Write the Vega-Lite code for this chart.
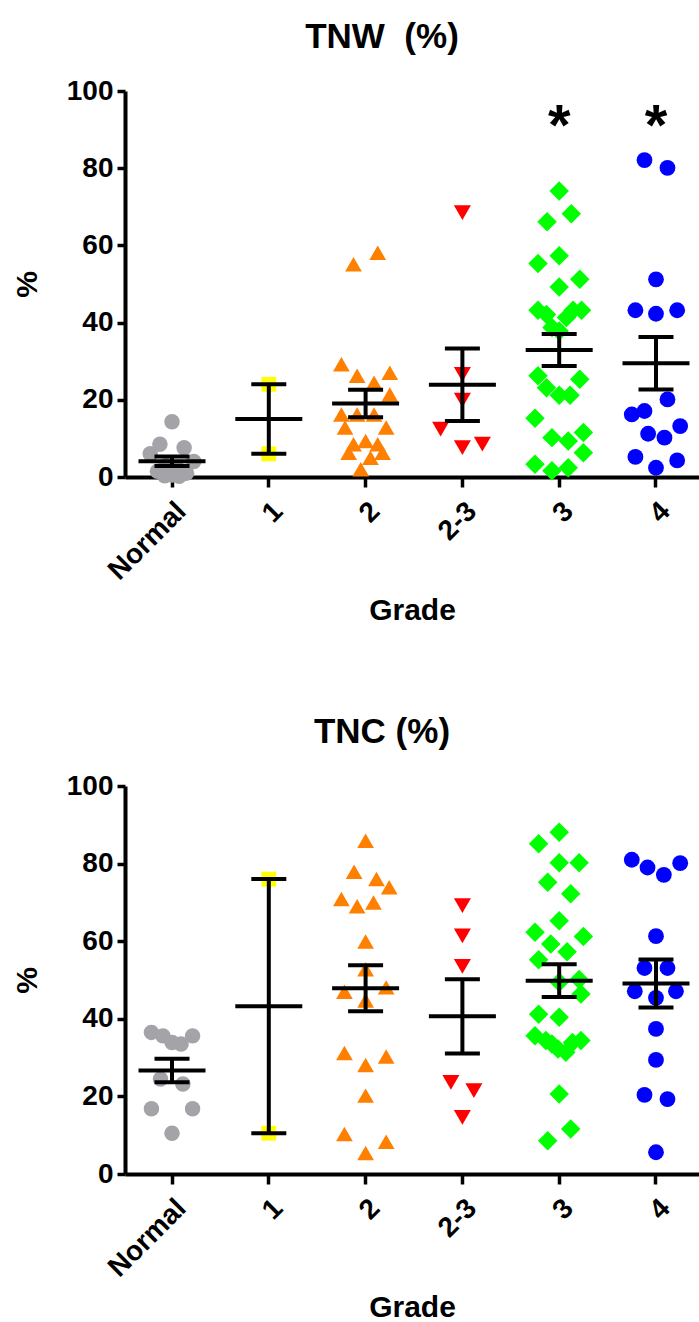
{
  "$schema": "https://vega.github.io/schema/vega-lite/v6.json",
  "padding": {"left": 12, "top": 20, "right": 0, "bottom": 0},
  "spacing": 89,
  "config": {
    "view": {"stroke": null},
    "font": "Liberation Sans",
    "title": {"fontSize": 35, "fontWeight": "bold", "color": "black", "font": "Liberation Sans", "anchor": "middle", "dx": -30, "offset": 22},
    "axis": {
      "grid": false,
      "domainColor": "black", "domainWidth": 4,
      "tickColor": "black", "tickWidth": 3.5,
      "labelColor": "black", "labelFont": "Liberation Sans", "labelFontWeight": "bold", "labelFontSize": 28,
      "titleColor": "black", "titleFont": "Liberation Sans", "titleFontWeight": "bold", "titleFontSize": 30
    },
    "axisX": {"tickSize": 10, "labelAngle": -45, "labelPadding": 10, "titlePadding": 10},
    "axisY": {"tickSize": 8, "labelPadding": 4, "titlePadding": 24}
  },
  "datasets": {
    "tnw": [
      {"g": "Normal", "v": 14.3, "c": 0}, {"g": "Normal", "v": 8.5, "c": -1}, {"g": "Normal", "v": 7.6, "c": 1}, {"g": "Normal", "v": 6, "c": -1.8},
      {"g": "Normal", "v": 4, "c": 1.8}, {"g": "Normal", "v": 3, "c": -0.5}, {"g": "Normal", "v": 2, "c": 0.5}, {"g": "Normal", "v": 1.5, "c": -1.2},
      {"g": "Normal", "v": 1, "c": 1.2}, {"g": "Normal", "v": 0.5, "c": 0}, {"g": "Normal", "v": 0.3, "c": -0.6}, {"g": "Normal", "v": 0.2, "c": 0.6},
      {"g": "1", "v": 24, "c": 0}, {"g": "1", "v": 6, "c": 0},
      {"g": "2", "v": 55.1, "c": -1}, {"g": "2", "v": 58.1, "c": 1}, {"g": "2", "v": 29.2, "c": -2}, {"g": "2", "v": 26.2, "c": -0.7},
      {"g": "2", "v": 27, "c": 2}, {"g": "2", "v": 24.4, "c": 0.7}, {"g": "2", "v": 21.4, "c": 2}, {"g": "2", "v": 16.2, "c": -2},
      {"g": "2", "v": 16.2, "c": -0.7}, {"g": "2", "v": 16.2, "c": 0.7}, {"g": "2", "v": 12.8, "c": -1.7}, {"g": "2", "v": 12.8, "c": 1.7},
      {"g": "2", "v": 8.5, "c": -1}, {"g": "2", "v": 9.3, "c": 0}, {"g": "2", "v": 8.5, "c": 1}, {"g": "2", "v": 6.3, "c": -1.4},
      {"g": "2", "v": 5, "c": 0.4}, {"g": "2", "v": 6.3, "c": 1.4}, {"g": "2", "v": 2, "c": -0.4},
      {"g": "2-3", "v": 68.5, "c": 0}, {"g": "2-3", "v": 26.6, "c": 0}, {"g": "2-3", "v": 19.9, "c": 0}, {"g": "2-3", "v": 12.4, "c": -1.8},
      {"g": "2-3", "v": 7.6, "c": 0}, {"g": "2-3", "v": 8.5, "c": 1.65},
      {"g": "3", "v": 74.1, "c": 0}, {"g": "3", "v": 66.1, "c": -1}, {"g": "3", "v": 68.2, "c": 1}, {"g": "3", "v": 55.3, "c": -1.75},
      {"g": "3", "v": 57.3, "c": 0}, {"g": "3", "v": 49.2, "c": 0}, {"g": "3", "v": 51.2, "c": 1.7}, {"g": "3", "v": 43.2, "c": -1.75},
      {"g": "3", "v": 42.1, "c": -1.05}, {"g": "3", "v": 41.3, "c": 0.6}, {"g": "3", "v": 43.2, "c": 1.15}, {"g": "3", "v": 43.2, "c": 1.85},
      {"g": "3", "v": 38.7, "c": -0.6}, {"g": "3", "v": 37.8, "c": 0}, {"g": "3", "v": 26.2, "c": -1.75}, {"g": "3", "v": 25.3, "c": 1.7},
      {"g": "3", "v": 23.1, "c": -1.05}, {"g": "3", "v": 21.2, "c": 0}, {"g": "3", "v": 21.2, "c": 0.9}, {"g": "3", "v": 15.2, "c": -2},
      {"g": "3", "v": 10.2, "c": -0.6}, {"g": "3", "v": 9.3, "c": 0.75}, {"g": "3", "v": 11.5, "c": 2}, {"g": "3", "v": 6.3, "c": 2},
      {"g": "3", "v": 3.3, "c": -2}, {"g": "3", "v": 1.6, "c": -0.6}, {"g": "3", "v": 2.4, "c": 0.75},
      {"g": "4", "v": 82.1, "c": -0.95}, {"g": "4", "v": 80.1, "c": 0.95}, {"g": "4", "v": 51.2, "c": 0}, {"g": "4", "v": 43.2, "c": -1.7},
      {"g": "4", "v": 42.3, "c": 0}, {"g": "4", "v": 43.2, "c": 1.75}, {"g": "4", "v": 20.1, "c": 0.95}, {"g": "4", "v": 17.1, "c": -0.95},
      {"g": "4", "v": 16.2, "c": -2}, {"g": "4", "v": 13.2, "c": 2}, {"g": "4", "v": 11.2, "c": -0.65}, {"g": "4", "v": 10.2, "c": 0.7},
      {"g": "4", "v": 5.2, "c": -1.7}, {"g": "4", "v": 2.4, "c": 0}, {"g": "4", "v": 4.3, "c": 1.75}
    ],
    "tnc": [
      {"g": "Normal", "v": 36.5, "c": -1.7}, {"g": "Normal", "v": 35.6, "c": -0.75}, {"g": "Normal", "v": 33.9, "c": 0}, {"g": "Normal", "v": 33.5, "c": 0.75},
      {"g": "Normal", "v": 35.6, "c": 1.7}, {"g": "Normal", "v": 24.5, "c": -0.95}, {"g": "Normal", "v": 23.2, "c": 0.9}, {"g": "Normal", "v": 16.8, "c": -1.7},
      {"g": "Normal", "v": 16.8, "c": 1.7}, {"g": "Normal", "v": 10.5, "c": 0},
      {"g": "1", "v": 76, "c": 0}, {"g": "1", "v": 10.5, "c": 0},
      {"g": "2", "v": 85.9, "c": 0}, {"g": "2", "v": 77.9, "c": -0.95}, {"g": "2", "v": 76, "c": 0.9}, {"g": "2", "v": 73.9, "c": 1.95},
      {"g": "2", "v": 70.9, "c": -2}, {"g": "2", "v": 69, "c": -0.7}, {"g": "2", "v": 70, "c": 0.65}, {"g": "2", "v": 59.9, "c": 0},
      {"g": "2", "v": 52.8, "c": 0}, {"g": "2", "v": 47, "c": -1.75}, {"g": "2", "v": 48.1, "c": 1.7}, {"g": "2", "v": 44.7, "c": 0},
      {"g": "2", "v": 31.2, "c": -1.75}, {"g": "2", "v": 28.1, "c": 0}, {"g": "2", "v": 30.3, "c": 1.7}, {"g": "2", "v": 20.2, "c": 0},
      {"g": "2", "v": 10.3, "c": -1.75}, {"g": "2", "v": 8.3, "c": 1.7}, {"g": "2", "v": 5.4, "c": 0},
      {"g": "2-3", "v": 69.2, "c": 0}, {"g": "2-3", "v": 61.4, "c": 0}, {"g": "2-3", "v": 53.5, "c": 0}, {"g": "2-3", "v": 23.6, "c": -0.95},
      {"g": "2-3", "v": 21.5, "c": 0.95}, {"g": "2-3", "v": 14.6, "c": 0},
      {"g": "3", "v": 88.1, "c": 0}, {"g": "3", "v": 85.1, "c": -1.7}, {"g": "3", "v": 80.2, "c": 0}, {"g": "3", "v": 80.2, "c": 1.65},
      {"g": "3", "v": 75.2, "c": -0.95}, {"g": "3", "v": 72.2, "c": 0.95}, {"g": "3", "v": 65.3, "c": 0}, {"g": "3", "v": 62.3, "c": -2},
      {"g": "3", "v": 61.2, "c": 2}, {"g": "3", "v": 59.3, "c": -0.7}, {"g": "3", "v": 57.3, "c": 0.65}, {"g": "3", "v": 55.2, "c": -1.7},
      {"g": "3", "v": 49.4, "c": 0}, {"g": "3", "v": 50.1, "c": 1.65}, {"g": "3", "v": 46.4, "c": 1.8}, {"g": "3", "v": 41.2, "c": -1.7},
      {"g": "3", "v": 40.4, "c": 0}, {"g": "3", "v": 35.6, "c": -2}, {"g": "3", "v": 34.4, "c": -1.1}, {"g": "3", "v": 33.5, "c": -0.6},
      {"g": "3", "v": 32.2, "c": -0.1}, {"g": "3", "v": 31.4, "c": 0.55}, {"g": "3", "v": 33.9, "c": 1.1}, {"g": "3", "v": 34.4, "c": 1.8},
      {"g": "3", "v": 20.6, "c": 0}, {"g": "3", "v": 11.6, "c": 0.95}, {"g": "3", "v": 8.6, "c": -0.95},
      {"g": "4", "v": 81, "c": -2}, {"g": "4", "v": 79, "c": -0.7}, {"g": "4", "v": 77.1, "c": 0.65}, {"g": "4", "v": 80.1, "c": 2},
      {"g": "4", "v": 61.3, "c": 0}, {"g": "4", "v": 53.1, "c": -0.95}, {"g": "4", "v": 53.1, "c": 0.95}, {"g": "4", "v": 47.1, "c": -1.75},
      {"g": "4", "v": 45.4, "c": 0}, {"g": "4", "v": 47.1, "c": 1.65}, {"g": "4", "v": 37.4, "c": 0}, {"g": "4", "v": 29.4, "c": 0},
      {"g": "4", "v": 20.4, "c": -0.95}, {"g": "4", "v": 19.3, "c": 0.95}, {"g": "4", "v": 5.6, "c": 0}
    ],
    "stars": [
      {"g": "3", "v": 93, "label": "*"}, {"g": "4", "v": 93, "label": "*"}
    ]
  },
  "vconcat": [
    {
      "title": "TNW\u00a0\u00a0(%)",
      "width": 574,
      "height": 386,
      "encoding": {
        "x": {"field": "g", "type": "nominal", "sort": ["Normal", "1", "2", "2-3", "3", "4"], "title": "Grade",
              "scale": {"paddingInner": 0.5, "paddingOuter": 0.215, "align": 0.548, "round": false}},
        "y": {"field": "v", "type": "quantitative", "title": "%", "scale": {"domain": [0, 100], "nice": false},
              "axis": {"values": [0, 20, 40, 60, 80, 100]}}
      },
      "layer": [
        {
          "data": {"name": "tnw"},
          "mark": {"type": "point", "filled": true, "opacity": 1, "strokeWidth": 0},
          "encoding": {
            "xOffset": {"field": "c", "type": "quantitative", "scale": {"domain": [-2, 2]}},
            "color": {"field": "g", "type": "nominal", "legend": null,
                      "scale": {"domain": ["Normal", "1", "2", "2-3", "3", "4"], "range": ["#A3A3A8", "#FFFF00", "#FF8000", "#FF0000", "#00FF00", "#0000FF"]}},
            "shape": {"field": "g", "type": "nominal", "legend": null,
                      "scale": {"domain": ["Normal", "1", "2", "2-3", "3", "4"], "range": ["circle", "square", "triangle-up", "triangle-down", "diamond", "circle"]}},
            "size": {"field": "g", "type": "nominal", "legend": null,
                     "scale": {"type": "ordinal", "domain": ["Normal", "1", "2", "2-3", "3", "4"], "range": [240, 220, 280, 290, 380, 250]}}
          }
        },
        {
          "data": {"name": "tnw"},
          "mark": {"type": "errorbar", "extent": "stderr", "size": 35, "thickness": 4, "color": "black",
                   "ticks": {"color": "black", "opacity": 1}, "rule": {"color": "black", "opacity": 1}}
        },
        {
          "data": {"name": "tnw"},
          "mark": {"type": "tick", "size": 67, "thickness": 4, "color": "black", "opacity": 1},
          "encoding": {"y": {"aggregate": "mean", "field": "v", "type": "quantitative", "title": "%"}}
        },
        {
          "data": {"name": "stars"},
          "mark": {"type": "text", "font": "Liberation Sans", "fontWeight": "bold", "fontSize": 58, "color": "black", "baseline": "middle", "dy": 10},
          "encoding": {"text": {"field": "label"}}
        }
      ]
    },
    {
      "title": "TNC (%)",
      "width": 574,
      "height": 388,
      "encoding": {
        "x": {"field": "g", "type": "nominal", "sort": ["Normal", "1", "2", "2-3", "3", "4"], "title": "Grade",
              "scale": {"paddingInner": 0.5, "paddingOuter": 0.215, "align": 0.548, "round": false}},
        "y": {"field": "v", "type": "quantitative", "title": "%", "scale": {"domain": [0, 100], "nice": false},
              "axis": {"values": [0, 20, 40, 60, 80, 100]}}
      },
      "layer": [
        {
          "data": {"name": "tnc"},
          "mark": {"type": "point", "filled": true, "opacity": 1, "strokeWidth": 0},
          "encoding": {
            "xOffset": {"field": "c", "type": "quantitative", "scale": {"domain": [-2, 2]}},
            "color": {"field": "g", "type": "nominal", "legend": null,
                      "scale": {"domain": ["Normal", "1", "2", "2-3", "3", "4"], "range": ["#A3A3A8", "#FFFF00", "#FF8000", "#FF0000", "#00FF00", "#0000FF"]}},
            "shape": {"field": "g", "type": "nominal", "legend": null,
                      "scale": {"domain": ["Normal", "1", "2", "2-3", "3", "4"], "range": ["circle", "square", "triangle-up", "triangle-down", "diamond", "circle"]}},
            "size": {"field": "g", "type": "nominal", "legend": null,
                     "scale": {"type": "ordinal", "domain": ["Normal", "1", "2", "2-3", "3", "4"], "range": [240, 220, 280, 290, 380, 250]}}
          }
        },
        {
          "data": {"name": "tnc"},
          "mark": {"type": "errorbar", "extent": "stderr", "size": 35, "thickness": 4, "color": "black",
                   "ticks": {"color": "black", "opacity": 1}, "rule": {"color": "black", "opacity": 1}}
        },
        {
          "data": {"name": "tnc"},
          "mark": {"type": "tick", "size": 67, "thickness": 4, "color": "black", "opacity": 1},
          "encoding": {"y": {"aggregate": "mean", "field": "v", "type": "quantitative", "title": "%"}}
        }
      ]
    }
  ]
}
